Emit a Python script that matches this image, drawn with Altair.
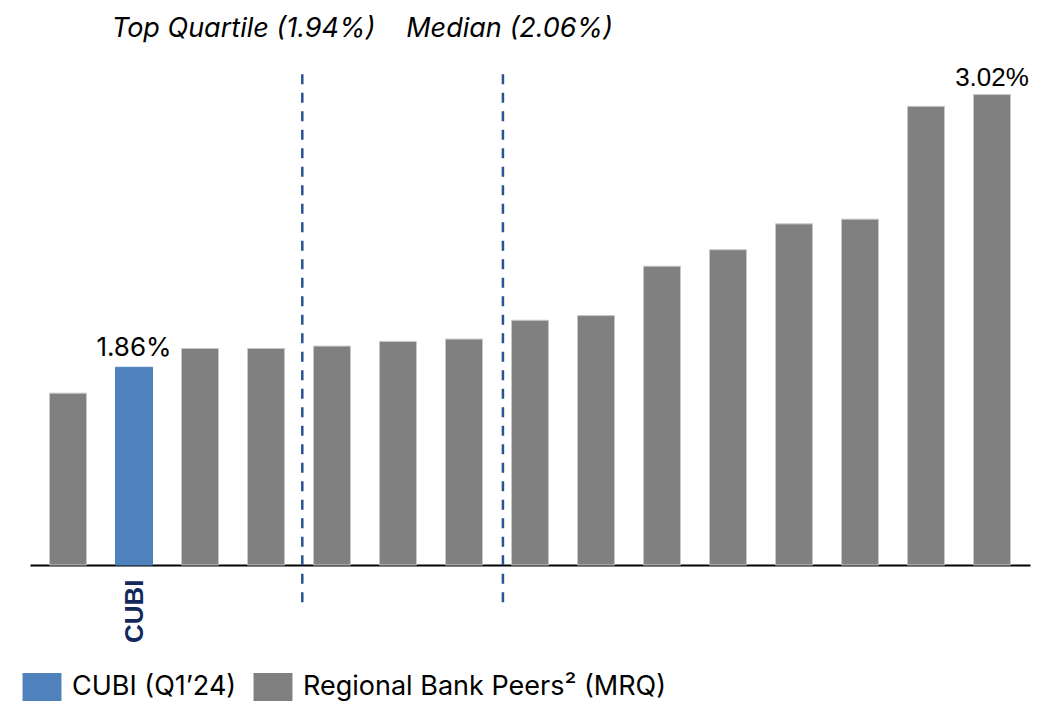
import altair as alt
import pandas as pd

# ---- data ----
bar_pos = list(range(1, 16))
bar_values = [1.75, 1.86, 1.94, 1.94, 1.95, 1.97, 1.98, 2.06, 2.08, 2.29, 2.36, 2.47, 2.49, 2.97, 3.02]
peer = "Regional Bank Peers² (MRQ)"
cubi = "CUBI (Q1’24)"
bar_group = [peer, cubi] + [peer] * 13
bar_labels = ["", "1.86%", "", "", "", "", "", "", "", "", "", "", "", "", "3.02%"]

ref_names = ["Top Quartile (1.94%)", "Median (2.06%)"]
ref_pos = [4.55, 7.59]          # dashed line positions (between bars)
ref_label_pos = [3.66, 7.69]    # annotation text centres
ref_top = 3.106
ref_bottom = 0.84
ref_label_y = 3.264

y_min, y_max = 1.019, 3.167

df = pd.DataFrame({"pos": bar_pos, "value": bar_values, "group": bar_group,
                   "label": bar_labels})
df["base"] = y_min
refs = pd.DataFrame({"name": ref_names, "pos": ref_pos, "lpos": ref_label_pos,
                     "top": ref_top, "bottom": ref_bottom, "ly": ref_label_y})

xscale = alt.Scale(domain=[0.5, 15.5], nice=False, zero=False)
yscale = alt.Scale(domain=[y_min, y_max], nice=False, zero=False)

bars = alt.Chart(df).mark_bar(size=37, strokeWidth=1).encode(
    x=alt.X("pos:Q", scale=xscale,
            axis=alt.Axis(values=[2], labelExpr="datum.value == 2 ? 'CUBI' : ''",
                          labelAngle=270, labelFont="Liberation Sans", labelFontWeight="bold",
                          labelFontSize=26, labelColor="#13295B", labelPadding=14,
                          ticks=False, grid=False, domainColor="#000000", domainWidth=2,
                          title=None)),
    y=alt.Y("value:Q", scale=yscale, axis=None),
    y2="base:Q",
    color=alt.Color("group:N",
                    scale=alt.Scale(domain=[cubi, peer], range=["#4F81BD", "#808080"]),
                    legend=alt.Legend(title=None, orient="none", direction="horizontal",
                                      legendX=-2, legendY=613, padding=0,
                                      symbolType="M-1.39,-1H1.39V1H-1.39Z", symbolSize=784,
                                      symbolStrokeWidth=0, symbolOpacity=1,
                                      labelFont="Inter", labelFontSize=27, labelColor="#000000",
                                      labelOffset=16, columnPadding=16, labelLimit=600)),
    stroke=alt.condition(alt.datum.group == peer, alt.value("#c8c8c8"), alt.value("#4F81BD")),
)

label_inter = alt.Chart(df).transform_filter(alt.datum.label == "1.86%").mark_text(
    font="Inter", fontSize=26, baseline="alphabetic", dy=-11, color="#000000"
).encode(x=alt.X("pos:Q", scale=xscale), y=alt.Y("value:Q", scale=yscale), text="label:N")

label_arial = alt.Chart(df).transform_filter(alt.datum.label == "3.02%").mark_text(
    font="Liberation Sans", fontSize=26, baseline="alphabetic", dy=-9, color="#000000"
).encode(x=alt.X("pos:Q", scale=xscale), y=alt.Y("value:Q", scale=yscale), text="label:N")

rules = alt.Chart(refs).mark_rule(color="#2A5391", strokeWidth=2.5, strokeDash=[10, 8.5]).encode(
    x=alt.X("pos:Q", scale=xscale),
    y=alt.Y("top:Q", scale=yscale),
    y2="bottom:Q",
)

ref_text = alt.Chart(refs).mark_text(
    font="Inter", fontSize=27, fontStyle="italic", baseline="alphabetic", color="#000000"
).encode(x=alt.X("lpos:Q", scale=xscale), y=alt.Y("ly:Q", scale=yscale), text="name:N")

chart = alt.layer(bars, rules, label_inter, label_arial, ref_text).properties(
    width=1000, height=505,
    autosize=alt.AutoSizeParams(type="none"),
    padding={"left": 30, "top": 60, "right": 20, "bottom": 142},
    background="#ffffff",
).configure_view(stroke=None)

chart.save("out.html", embed_options={"renderer": "svg", "actions": False})
